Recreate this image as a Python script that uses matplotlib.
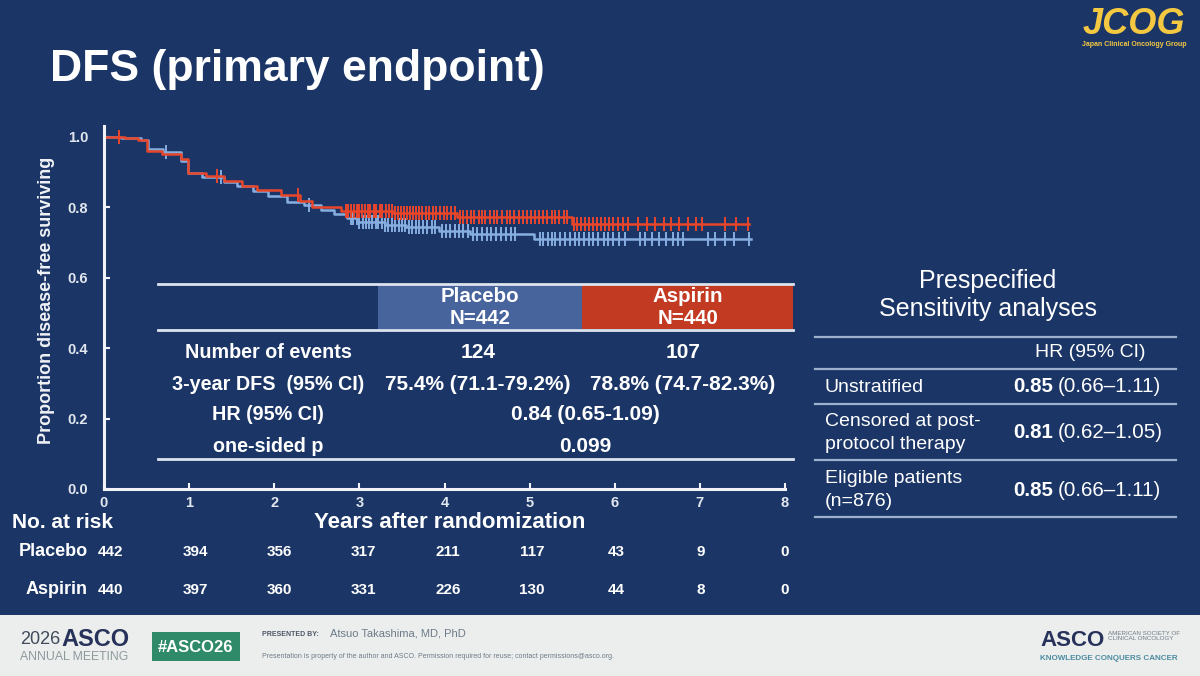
import numpy as np
import matplotlib.pyplot as plt
from matplotlib.lines import Line2D
from matplotlib.patches import Rectangle

W, H = 1200, 676
SANS = ['Liberation Sans', 'DejaVu Sans']
plt.rcParams['font.family'] = SANS

navy = '#1b3666'
blue = '#86aee0'
red = '#e8462a'

# KM step data
placebo_t = [0, 0.2, 0.44, 0.52, 0.69, 0.91, 0.99, 1.15, 1.41, 1.56, 1.75, 1.93, 2.15,
             2.35, 2.55, 2.7, 2.85, 2.98, 3.3, 3.55, 3.93, 4.3, 5.05, 7.6]
placebo_s = [1.0, 0.996, 0.99, 0.966, 0.955, 0.93, 0.897, 0.886, 0.872, 0.86, 0.845,
             0.83, 0.815, 0.805, 0.792, 0.78, 0.77, 0.758, 0.75, 0.742, 0.732,
             0.724, 0.708, 0.708]
aspirin_t = [0, 0.25, 0.4, 0.5, 0.68, 0.9, 0.99, 1.2, 1.41, 1.62, 1.8, 2.08, 2.3,
             2.44, 2.79, 3.4, 4.15, 5.5, 7.58]
aspirin_s = [1.0, 0.995, 0.99, 0.96, 0.95, 0.935, 0.897, 0.888, 0.874, 0.86, 0.848,
             0.833, 0.818, 0.80, 0.79, 0.783, 0.772, 0.752, 0.752]

placebo_cens = [0.73, 1.38, 2.41,
                2.9, 2.93, 2.97, 3.0, 3.04, 3.08, 3.11, 3.15, 3.19, 3.22, 3.26, 3.3,
                3.34, 3.38, 3.42, 3.46, 3.5, 3.54, 3.58, 3.62, 3.66, 3.7, 3.75, 3.8,
                3.85, 3.89, 3.97, 4.02, 4.07, 4.12, 4.17, 4.22, 4.28, 4.33, 4.38,
                4.44, 4.5, 4.55, 4.6, 4.66, 4.72, 4.78, 4.83,
                5.12, 5.16, 5.21, 5.26, 5.3, 5.36, 5.42, 5.47, 5.53, 5.58, 5.64,
                5.7, 5.75, 5.8, 5.87, 5.92, 5.98, 6.05, 6.12,
                6.3, 6.36, 6.44, 6.52, 6.6, 6.68, 6.74, 6.8, 7.1, 7.18, 7.3, 7.4, 7.58]
aspirin_cens = [0.18, 1.33, 2.28,
                2.84, 2.87, 2.9, 2.94, 2.97, 3.0, 3.03, 3.07, 3.1, 3.13, 3.17, 3.2,
                3.24, 3.27, 3.31, 3.35, 3.38, 3.42, 3.45, 3.49, 3.52, 3.56, 3.6,
                3.63, 3.67, 3.7, 3.74, 3.78, 3.82, 3.86, 3.9, 3.95, 3.99, 4.03,
                4.08, 4.12, 4.18, 4.22, 4.26, 4.31, 4.35, 4.4, 4.44, 4.48, 4.53,
                4.58, 4.62, 4.68, 4.73, 4.77, 4.82, 4.88, 4.92, 4.97, 5.02, 5.06,
                5.11, 5.16, 5.2, 5.26, 5.3, 5.35, 5.4, 5.44,
                5.52, 5.56, 5.6, 5.65, 5.7, 5.74, 5.79, 5.84, 5.88, 5.93, 5.98,
                6.04, 6.1, 6.16, 6.27, 6.38, 6.47, 6.58, 6.66, 6.76, 6.86, 6.95,
                7.02, 7.3, 7.42, 7.56]

risk_times = [0, 1, 2, 3, 4, 5, 6, 7, 8]
placebo_risk = [442, 394, 356, 317, 211, 117, 43, 9, 0]
aspirin_risk = [440, 397, 360, 331, 226, 130, 44, 8, 0]

# summary table
row_labels = ['Number of events', '3-year DFS  (95% CI)', 'HR (95% CI)', 'one-sided p']
placebo_vals = ['124', '75.4% (71.1-79.2%)']
aspirin_vals = ['107', '78.8% (74.7-82.3%)']
shared_vals = ['0.84 (0.65-1.09)', '0.099']

sens_labels = ['Unstratified', 'Censored at post-\nprotocol therapy', 'Eligible patients\n(n=876)']
sens_hr = ['0.85', '0.81', '0.85']
sens_ci = ['(0.66–1.11)', '(0.62–1.05)', '(0.66–1.11)']

fig = plt.figure(figsize=(12, 6.76), dpi=100, facecolor=navy)


def ft(x, y, s, **kw):
    return fig.text(x / W, 1 - y / H, s, **kw)


def hline(x0, x1, y, color='#dde3ee', lw=1.6):
    fig.add_artist(Line2D([x0 / W, x1 / W], [1 - y / H, 1 - y / H],
                          transform=fig.transFigure, color=color, lw=lw))


def rect(x0, y0, x1, y1, color):
    fig.add_artist(Rectangle((x0 / W, 1 - y1 / H), (x1 - x0) / W, (y1 - y0) / H,
                             transform=fig.transFigure, color=color, lw=0))


# KM axes
ax = fig.add_axes([104 / W, 1 - 489 / H, (785 - 104) / W, (489 - 126) / H])
ax.set_facecolor('none')
ax.set_xlim(0, 8)
ax.set_ylim(0, 1.03)


def draw_km(t, s, cens, color):
    ax.step(t, s, where='post', color=color, lw=1.8)
    t = np.array(t)
    s = np.array(s)
    idx = np.searchsorted(t, cens, side='right') - 1
    ax.plot(cens, s[idx], ls='none', marker='|', ms=10, mew=1.4, color=color)


draw_km(placebo_t, placebo_s, placebo_cens, blue)
draw_km(aspirin_t, aspirin_s, aspirin_cens, red)

for sp in ['top', 'right']:
    ax.spines[sp].set_visible(False)
for sp in ['left', 'bottom']:
    ax.spines[sp].set_color('#f0f2f6')
    ax.spines[sp].set_linewidth(2.2)
ax.set_xticks(risk_times)
ax.set_yticks([0, 0.2, 0.4, 0.6, 0.8, 1.0])
ax.set_yticklabels(['0.0', '0.2', '0.4', '0.6', '0.8', '1.0'])
ax.tick_params(direction='in', length=4, width=1.5, color='#f0f2f6',
               labelcolor='#e2e6ee', labelsize=10.5)
ax.tick_params(axis='y', pad=11.5)
ax.tick_params(axis='x', pad=5)
for lab in ax.get_xticklabels() + ax.get_yticklabels():
    lab.set_fontweight('bold')
ax.set_ylabel('Proportion disease-free surviving', color='#f0f2f6', fontsize=13,
              fontweight='bold')
ax.yaxis.set_label_coords(-0.072, 0.52)

ft(450, 523, 'Years after randomization', color='white', fontsize=16, fontweight='bold',
   ha='center', va='center')

# number at risk
ft(12, 522, 'No. at risk', color='white', fontsize=15, fontweight='bold',
   ha='left', va='center')
for name, counts, y in [('Placebo', placebo_risk, 552), ('Aspirin', aspirin_risk, 590)]:
    ft(88, y, name, color='white', fontsize=13, fontweight='bold',
       ha='right', va='center')
    for t, c in zip(risk_times, counts):
        xp = ax.transData.transform((t, 0))[0]
        off = 7 - t * 0.9
        ft(xp + off, y, str(c), color='white', fontsize=11, fontweight='bold',
           ha='center', va='center')

# embedded summary table
rect(378, 285, 582, 329, '#47649d')
rect(582, 285, 793, 329, '#c33a22')
hline(158, 793, 284, lw=2)
hline(158, 793, 330, lw=2)
hline(158, 793, 459, lw=2)
tk = dict(color='white', fontweight='bold', ha='center', va='center')
ft(480, 308, 'Placebo\nN=442', fontsize=14.8, linespacing=1.2, **tk)
ft(688, 308, 'Aspirin\nN=440', fontsize=14.8, linespacing=1.2, **tk)
row_y = [352, 384, 415, 447]
for lab, y in zip(row_labels, row_y):
    ft(268, y, lab, fontsize=14.2, **tk)
for i in range(2):
    ft(478, row_y[i], placebo_vals[i], fontsize=15, **tk)
    ft(683, row_y[i], aspirin_vals[i], fontsize=15, **tk)
for i in range(2):
    ft(585, row_y[i + 2], shared_vals[i], fontsize=15, **tk)

# sensitivity analyses
ft(988, 295, 'Prespecified\nSensitivity analyses', color='white', fontsize=18,
   ha='center', va='center', linespacing=1.25)
for y in [337, 369, 404, 460, 517]:
    hline(815, 1176, y, color='#9fb0cc', lw=1.6)
ft(1090, 353, 'HR (95% CI)', color='white', fontsize=14, ha='center', va='center')
sens_y = [387, 433, 490]
for lab, hr, ci, y in zip(sens_labels, sens_hr, sens_ci, sens_y):
    ft(825, y, lab, color='white', fontsize=14, ha='left', va='center', linespacing=1.45)
    ft(1053, y, hr, color='white', fontsize=14.8, fontweight='bold', ha='right', va='center')
    ft(1058, y, ci, color='white', fontsize=14.8, ha='left', va='center')

# title and logo
ft(50, 69, 'DFS (primary endpoint)', color='white', fontsize=32, fontweight='bold',
   ha='left', va='center')
ft(1134, 25, 'JCOG', color='#f5c842', fontsize=26, fontweight='bold', style='italic',
   ha='center', va='center')
ft(1134, 44, 'Japan Clinical Oncology Group', color='#f5c842', fontsize=5,
   fontweight='bold', ha='center', va='center')

# footer
rect(0, 615, 1200, 676, '#ebeeed')
ft(20, 640, '2026', color='#3f4b5c', fontsize=13, ha='left', va='center')
ft(61, 640, 'ASCO', color='#27325a', fontsize=17, fontweight='bold', ha='left', va='center')
ft(20, 657, 'ANNUAL MEETING', color='#8c9a9c', fontsize=8.8, ha='left', va='center')
rect(152, 632, 240, 661, '#2e8a68')
ft(196, 647, '#ASCO26', color='white', fontsize=12, fontweight='bold', ha='center', va='center')
ft(262, 635, 'PRESENTED BY:', color='#4c5766', fontsize=5, fontweight='bold',
   ha='left', va='center')
ft(330, 634, 'Atsuo Takashima, MD, PhD', color='#6e7b88', fontsize=8, ha='left', va='center')
ft(262, 657, 'Presentation is property of the author and ASCO. Permission required for reuse; '
   'contact permissions@asco.org.', color='#6e7b88', fontsize=5, ha='left', va='center')
ft(1040, 641, 'ASCO', color='#27325a', fontsize=16, fontweight='bold', ha='left', va='center')
ft(1108, 636, 'AMERICAN SOCIETY OF\nCLINICAL ONCOLOGY', color='#6e7b88', fontsize=4.5,
   ha='left', va='center', linespacing=1.2)
ft(1040, 659, 'KNOWLEDGE CONQUERS CANCER', color='#4d8ba0', fontsize=5.8,
   fontweight='bold', ha='left', va='center')

fig.savefig('out.png', dpi=100, facecolor=navy)
